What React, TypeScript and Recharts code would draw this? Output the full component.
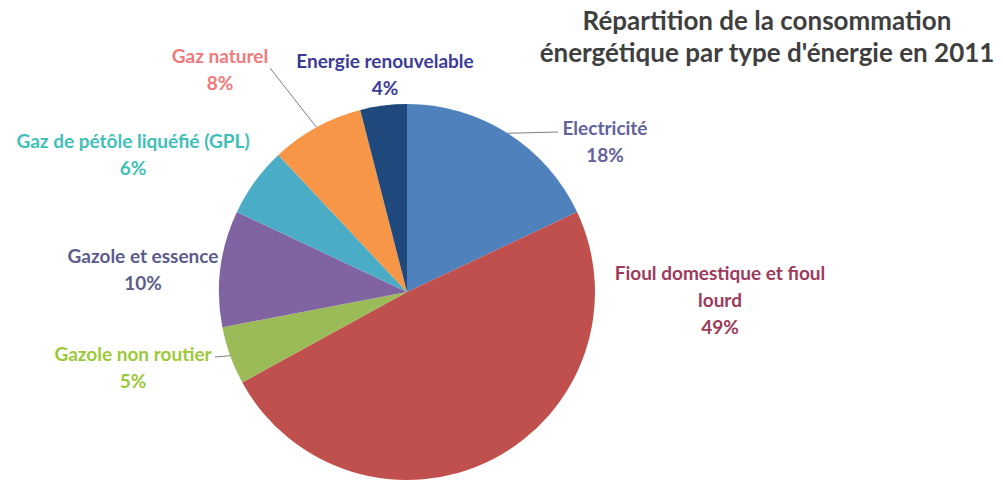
import { Cell, Pie, PieChart } from "recharts";

const categories = [
  "Electricité",
  "Fioul domestique et fioul lourd",
  "Gazole non routier",
  "Gazole et essence",
  "Gaz de pétôle liquéfié (GPL)",
  "Gaz naturel",
  "Energie renouvelable",
];
const shares = [18, 49, 5, 10, 6, 8, 4];
const labelLines = [
  ["Electricité"],
  ["Fioul domestique et fioul", "lourd"],
  ["Gazole non routier"],
  ["Gazole et essence"],
  ["Gaz de pétôle liquéfié (GPL)"],
  ["Gaz naturel"],
  ["Energie renouvelable"],
];
const title = ["Répartition de la consommation", "énergétique par type d'énergie en 2011"];

const data = categories.map((name, i) => ({ name, value: shares[i] }));

const sliceColors = ["#4f81bd", "#c0504d", "#9bbb59", "#8064a2", "#4bacc6", "#f79646", "#1f497d"];
const textColors = ["#62629e", "#9e3a5c", "#9cc93a", "#5c5c8c", "#3fbfb8", "#f27a7a", "#3b3b98"];

// first-line centre of each label, relative to the pie centre, and an optional leader line end
const labelOffsets: [number, number][] = [
  [198, -165],
  [313, -20],
  [-274, 61],
  [-264, -37],
  [-274, -152],
  [-187, -237],
  [-22, -232],
];
const leaderEnds: ([number, number] | null)[] = [
  [151, -160],
  null,
  [-192, 65],
  null,
  null,
  [-137, -224],
  null,
];

const RAD = Math.PI / 180;
const LINE_H = 27;

function renderLabel(props: any) {
  const { cx, cy, midAngle, outerRadius, index, value } = props;
  const [dx, dy] = labelOffsets[index];
  const lines = [...labelLines[index], `${value}%`];
  const end = leaderEnds[index];
  const ex = cx + outerRadius * Math.cos(-midAngle * RAD);
  const ey = cy + outerRadius * Math.sin(-midAngle * RAD);
  return (
    <g key={`lbl-${index}`}>
      {end && (
        <line x1={ex} y1={ey} x2={cx + end[0]} y2={cy + end[1]} stroke="#7f7f7f" strokeWidth={1} />
      )}
      {lines.map((t, j) => (
        <text
          key={j}
          x={cx + dx}
          y={cy + dy + j * LINE_H}
          textAnchor="middle"
          dominantBaseline="central"
          fill={textColors[index]}
          fontSize={19}
          fontWeight="bold"
          fontFamily="Lato, sans-serif"
        >
          {t}
        </text>
      ))}
    </g>
  );
}

export default function App() {
  return (
    <div style={{ position: "absolute", left: 0, top: 0, width: 1003, height: 488, background: "#fff" }}>
      <div
        style={{
          position: "absolute",
          left: 537,
          top: 4,
          width: 460,
          textAlign: "center",
          fontFamily: "Lato, sans-serif",
          fontWeight: "bold",
          fontSize: 26,
          lineHeight: "32px",
          color: "#3f3f3f",
          whiteSpace: "nowrap",
        }}
      >
        {title.map((t) => (
          <div key={t}>{t}</div>
        ))}
      </div>
      <PieChart
        width={1003}
        height={488}
        margin={{ top: 0, right: 0, bottom: 0, left: 0 }}
        style={{ position: "absolute", left: 0, top: 0 }}
      >
        <Pie
          data={data}
          dataKey="value"
          nameKey="name"
          cx={407}
          cy={292}
          outerRadius={188}
          startAngle={90}
          endAngle={-270}
          stroke="none"
          label={renderLabel}
          labelLine={false}
          isAnimationActive={false}
        >
          {data.map((d, i) => (
            <Cell key={d.name} fill={sliceColors[i]} />
          ))}
        </Pie>
      </PieChart>
    </div>
  );
}
